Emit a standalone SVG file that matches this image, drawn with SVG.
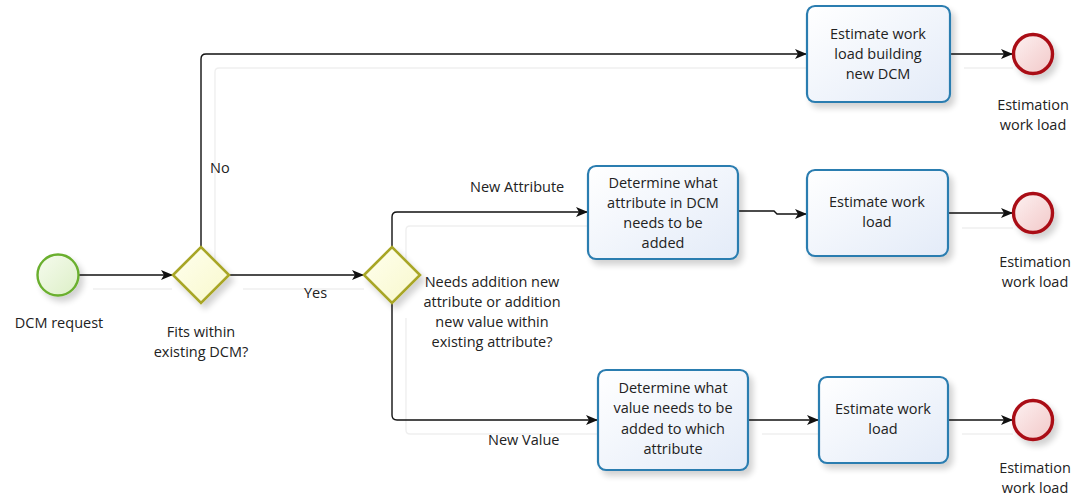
<svg xmlns="http://www.w3.org/2000/svg" width="1079" height="500" viewBox="0 0 1079 500">
  <style>
    text { font-family: "Open Sans", "DejaVu Sans", sans-serif; font-size: 14.5px; fill: #222; text-anchor: middle; }
    .lbl { text-anchor: start; }
    .task { fill: url(#taskFill); stroke: #2c7db0; stroke-width: 2.2; }
    .gw { fill: url(#gwFill); stroke: #a8a628; stroke-width: 2.6; }
    .start { fill: url(#startFill); stroke: #6aaf2e; stroke-width: 2.4; }
    .end { fill: url(#endFill); stroke: #aa1016; stroke-width: 3.4; }
    .flow { fill: none; stroke: #111; stroke-width: 1.4; marker-end: url(#arrow); }
    .shadow { fill: none; stroke: #efefef; stroke-width: 1.4; }
  </style>
  <defs>
    <linearGradient id="taskFill" x1="0" y1="0" x2="1" y2="1">
      <stop offset="0" stop-color="#ffffff"/>
      <stop offset="1" stop-color="#e3ebf8"/>
    </linearGradient>
    <linearGradient id="gwFill" x1="0" y1="0" x2="1" y2="1">
      <stop offset="0" stop-color="#ffffee"/>
      <stop offset="1" stop-color="#f8f8cc"/>
    </linearGradient>
    <linearGradient id="startFill" x1="0" y1="0" x2="1" y2="1">
      <stop offset="0" stop-color="#f6fbee"/>
      <stop offset="1" stop-color="#dcefc6"/>
    </linearGradient>
    <linearGradient id="endFill" x1="0" y1="0" x2="1" y2="1">
      <stop offset="0" stop-color="#fdf1f1"/>
      <stop offset="1" stop-color="#f2c8c8"/>
    </linearGradient>
    <filter id="drop" x="-20%" y="-20%" width="150%" height="150%">
      <feGaussianBlur in="SourceAlpha" stdDeviation="3"/>
      <feOffset dx="4" dy="5" result="b"/>
      <feComponentTransfer><feFuncA type="linear" slope="0.18"/></feComponentTransfer>
      <feMerge><feMergeNode/><feMergeNode in="SourceGraphic"/></feMerge>
    </filter>
    <marker id="arrow" viewBox="0 0 12 10" refX="11" refY="5" markerWidth="12" markerHeight="10" markerUnits="userSpaceOnUse" orient="auto">
      <path d="M0,0 L12,5 L0,10 L3,5 Z" fill="#111"/>
    </marker>
  </defs>

  <!-- faint connector shadows -->
  <g id="connector-shadows">
    <path class="shadow" d="M215,260 V72 Q215,68 219,68 H806"/>
    <path class="shadow" d="M93,289 H172"/>
    <path class="shadow" d="M243,289 H364"/>
    <path class="shadow" d="M406,262 V230 Q406,226 410,226 H588"/>
    <path class="shadow" d="M406,318 V430 Q406,434 410,434 H598"/>
    <path class="shadow" d="M964,68 H1013"/>
    <path class="shadow" d="M962,228 H1013"/>
    <path class="shadow" d="M762,434 H819"/>
    <path class="shadow" d="M962,434 H1013"/>
  </g>

  <!-- sequence flows -->
  <g id="connectors">
    <path class="flow" d="M79,275 H172"/>
    <path class="flow" d="M229,275 H363"/>
    <path class="flow" d="M201,247 V59 Q201,54 206,54 H806"/>
    <path class="flow" d="M950,54 H1012"/>
    <path class="flow" d="M392,247 V217 Q392,212 397,212 H587"/>
    <path class="flow" d="M392,303 V415 Q392,420 397,420 H597"/>
    <path class="flow" d="M738,211 H774 L777,214 H806"/>
    <path class="flow" d="M948,213 H1012"/>
    <path class="flow" d="M748,420 H818"/>
    <path class="flow" d="M948,420 H1012"/>
    <text class="lbl" x="210" y="173">No</text>
    <text class="lbl" x="304" y="298">Yes</text>
    <text class="lbl" x="470" y="192">New Attribute</text>
    <text class="lbl" x="488" y="445">New Value</text>
  </g>

  <g id="start">
    <circle class="start" cx="58" cy="275" r="20.5" filter="url(#drop)"/>
    <text x="59" y="328">DCM request</text>
  </g>

  <g id="gw-fits">
    <polygon class="gw" points="173,275 201,247 229,275 201,303" filter="url(#drop)"/>
    <text x="201" y="337">Fits within</text>
    <text x="201" y="357">existing DCM?</text>
  </g>

  <g id="gw-needs">
    <polygon class="gw" points="364,275 392,247 420,275 392,303" filter="url(#drop)"/>
    <text x="492" y="287">Needs addition new</text>
    <text x="492" y="307">attribute or addition</text>
    <text x="492" y="327">new value within</text>
    <text x="492" y="347">existing attribute?</text>
  </g>

  <g id="task-new-dcm">
    <rect class="task" x="807" y="6" width="143" height="96" rx="8" filter="url(#drop)"/>
    <text x="878" y="39">Estimate work</text>
    <text x="878" y="59">load building</text>
    <text x="878" y="79">new DCM</text>
  </g>

  <g id="task-attribute">
    <rect class="task" x="588" y="166" width="150" height="93" rx="8" filter="url(#drop)"/>
    <text x="663" y="188">Determine what</text>
    <text x="663" y="208">attribute in DCM</text>
    <text x="663" y="228">needs to be</text>
    <text x="663" y="248">added</text>
  </g>

  <g id="task-estimate-attr">
    <rect class="task" x="807" y="170" width="141" height="86" rx="8" filter="url(#drop)"/>
    <text x="877" y="207">Estimate work</text>
    <text x="877" y="227">load</text>
  </g>

  <g id="task-value">
    <rect class="task" x="598" y="370" width="150" height="100" rx="8" filter="url(#drop)"/>
    <text x="673" y="393">Determine what</text>
    <text x="673" y="413">value needs to be</text>
    <text x="673" y="434">added to which</text>
    <text x="673" y="454">attribute</text>
  </g>

  <g id="task-estimate-value">
    <rect class="task" x="819" y="377" width="129" height="86" rx="8" filter="url(#drop)"/>
    <text x="883" y="414">Estimate work</text>
    <text x="883" y="434">load</text>
  </g>

  <g id="end-new-dcm">
    <circle class="end" cx="1033" cy="54" r="19.5" filter="url(#drop)"/>
    <text x="1033" y="110">Estimation</text>
    <text x="1033" y="130">work load</text>
  </g>

  <g id="end-attr">
    <circle class="end" cx="1033" cy="213" r="19.5" filter="url(#drop)"/>
    <text x="1035" y="267">Estimation</text>
    <text x="1035" y="287">work load</text>
  </g>

  <g id="end-value">
    <circle class="end" cx="1033" cy="420" r="19.5" filter="url(#drop)"/>
    <text x="1035" y="473">Estimation</text>
    <text x="1035" y="493">work load</text>
  </g>
</svg>
